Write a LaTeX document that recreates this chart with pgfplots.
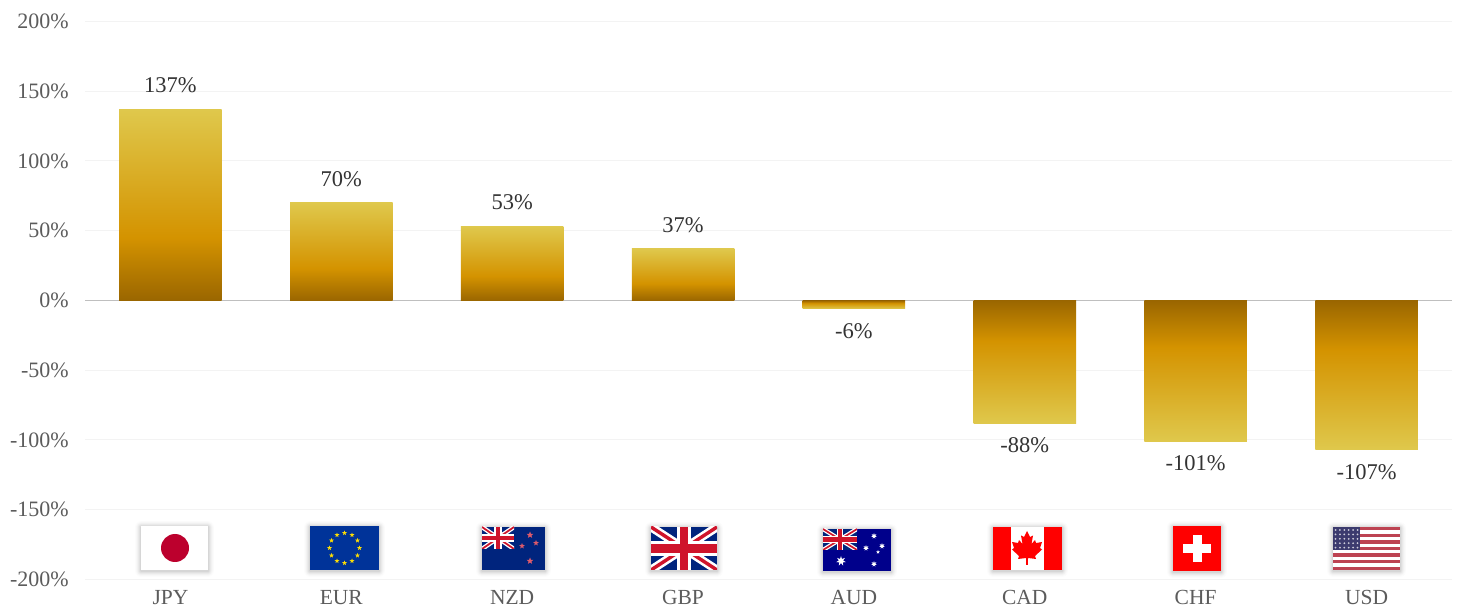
\documentclass[border=0pt]{standalone}
\usepackage{fontspec}
\setmainfont{Liberation Serif}
\usepackage{pgfplots}
\pgfplotsset{compat=1.18}
\usetikzlibrary{shapes.geometric}

\definecolor{gridc}{HTML}{F3F3F3}
\definecolor{zeroc}{HTML}{BFBFBF}
\definecolor{tickc}{HTML}{5C5C5C}
\definecolor{labc}{HTML}{333333}
\definecolor{gtop}{HTML}{DFC84C}
\definecolor{gmid}{HTML}{D49300}
\definecolor{gbot}{HTML}{9A6600}
\definecolor{jpred}{HTML}{BC002D}
\definecolor{eublue}{HTML}{003399}
\definecolor{nzblue}{HTML}{00247D}
\definecolor{aublue}{HTML}{00008B}
\definecolor{ukred}{HTML}{CF142B}
\definecolor{usred}{HTML}{B22234}
\definecolor{usblue}{HTML}{3C3B6E}

% bar gradients, the visible part of a shading is 25bp..75bp
\pgfdeclareverticalshading{barup}{100bp}{color(0bp)=(gbot); color(25bp)=(gbot); color(41.5bp)=(gmid); color(75bp)=(gtop); color(100bp)=(gtop)}
\pgfdeclareverticalshading{bardown}{100bp}{color(0bp)=(gtop); color(25bp)=(gtop); color(58.5bp)=(gmid); color(75bp)=(gbot); color(100bp)=(gbot)}

\pgfplotsset{
  goldbar/.style={ybar, bar width=102.5pt, bar shift=0pt, draw=none, shading=#1,
    nodes near coords={\pgfmathprintnumber[fixed,precision=0,assume math mode=true]{\pgfplotspointmeta}\%},
    every node near coord/.append style={text=labc, font=\fontsize{22.5}{24}\selectfont, anchor=center, inner sep=0pt}},
  upbar/.style={goldbar=barup, every node near coord/.append style={yshift=24pt}},
  downbar/.style={goldbar=bardown, every node near coord/.append style={yshift=-22pt}},
}

% soft shadow round a flag, image pixel coordinates
\newcommand{\fshadow}[4]{%
  \foreach \s/\o in {6/.012,5/.016,4/.022,3/.03,2/.04,1/.05}{\fill[black,opacity=\o,rounded corners=\s pt] (#1-\s,#2-\s+1) rectangle (#3+\s,#4+\s+1);}}
% union jack: x y w h
\newcommand{\ujack}[4]{%
  \begin{scope}
  \clip (#1,#2) rectangle ++(#3,#4);
  \begin{scope}[shift={(#1,#2)},x=#3pt,y=-#4pt]
  \fill[nzblue] (0,0) rectangle (1,1);
  \draw[white,line width=.2*#4 pt] (0,0)--(1,1) (0,1)--(1,0);
  \draw[ukred,line width=.08*#4 pt] (0,0)--(1,1) (0,1)--(1,0);
  \draw[white,line width=.33*#4 pt] (.5,0)--(.5,1) (0,.5)--(1,.5);
  \draw[ukred,line width=.2*#4 pt] (.5,0)--(.5,1) (0,.5)--(1,.5);
  \end{scope}
  \end{scope}}
\newcommand{\fstar}[4]{\node[star,star points=#4,star point ratio=2.3,fill=#3,inner sep=0pt,minimum size=#2pt] at #1 {};}

\begin{document}
\begin{tikzpicture}
\path[use as bounding box] (0,0) rectangle (1458pt,610pt);
\begin{axis}[
  at={(85pt,30.5pt)}, anchor=south west,
  scale only axis, width=1367pt, height=558pt,
  xmin=-0.5, xmax=7.5, ymin=-200, ymax=200,
  axis line style={draw=none},
  major tick length=0pt,
  ymajorgrids, major grid style={gridc,line width=1pt},
  ytick={-200,-150,-100,-50,0,50,100,150,200},
  yticklabels={-200\%,-150\%,-100\%,-50\%,0\%,50\%,100\%,150\%,200\%},
  xtick={0,...,7},
  xticklabels={JPY,EUR,NZD,GBP,AUD,CAD,CHF,USD},
  y tick label style={text=tickc,font=\fontsize{22}{24}\selectfont,anchor=east,inner sep=0pt,xshift=-16pt},
  x tick label style={text=tickc,font=\fontsize{21.5}{24}\selectfont,anchor=base,inner sep=0pt,yshift=-25pt},
  clip=false,
]
\addplot[zeroc,line width=1pt] coordinates {(-0.5,0) (7.5,0)};
\addplot[upbar] coordinates {(0,137)};
\addplot[upbar] coordinates {(1,70)};
\addplot[upbar] coordinates {(2,53)};
\addplot[upbar] coordinates {(3,37)};
\addplot[downbar] coordinates {(4,-6)};
\addplot[downbar] coordinates {(5,-88)};
\addplot[downbar] coordinates {(6,-101)};
\addplot[downbar] coordinates {(7,-107)};
\end{axis}

% flags, in pixels of the image
\begin{scope}[x=1pt,y=-1pt,shift={(0,610pt)}]
% JPY
\fshadow{141}{526}{208}{570}
\fill[white] (141,526) rectangle (208,570);
\fill[jpred] (175,548) circle (14);
% EUR
\fshadow{310}{526}{379}{570}
\fill[eublue] (310,526) rectangle (379,570);
\foreach \a in {0,30,...,330}{\fstar{({344.5+15*cos(\a)},{548+15*sin(\a)})}{5}{yellow!80!orange}{5}}
% NZD
\fshadow{482}{527}{545}{570}
\fill[nzblue] (482,527) rectangle (545,570);
\ujack{482}{527}{32}{22}
\fstar{(530,535)}{7}{ukred!70!white}{5}
\fstar{(522,546)}{6}{ukred!70!white}{5}
\fstar{(536,543)}{6}{ukred!70!white}{5}
\fstar{(530,561)}{7}{ukred!70!white}{5}
% GBP
\fshadow{651}{527}{717}{570}
\ujack{651}{527}{66}{43}
% AUD
\fshadow{823}{529}{891}{571}
\fill[aublue] (823,529) rectangle (891,571);
\ujack{823}{529}{34}{21}
\fstar{(841,561)}{10}{white}{7}
\fstar{(874,536)}{6}{white}{7}
\fstar{(882,546)}{6}{white}{7}
\fstar{(866,548)}{6}{white}{7}
\fstar{(878,552)}{4}{white}{5}
\fstar{(874,564)}{6}{white}{7}
% CAD
\fshadow{993}{527}{1062}{570}
\fill[white] (993,527) rectangle (1062,570);
\fill[red] (993,527) rectangle (1011,570);
\fill[red] (1044,527) rectangle (1062,570);
\begin{scope}[shift={(1027,548)}]
\fill[red] (0,-17)--(3,-11)--(6,-12.5)--(4.5,-4)--(8,-8)--(9,-5)--(15,-6)--(13,0)--(15,1.5)--(8,8)--(9,11)--(1,10)--(.8,17)--(-.8,17)--(-1,10)--(-9,11)--(-8,8)--(-15,1.5)--(-13,0)--(-15,-6)--(-9,-5)--(-8,-8)--(-4.5,-4)--(-6,-12.5)--(-3,-11)--cycle;
\end{scope}
% CHF
\fshadow{1173}{526}{1221}{571}
\fill[red] (1173,526) rectangle (1221,571);
\fill[white] (1192.5,535) rectangle (1201.5,562);
\fill[white] (1183,544) rectangle (1211,553);
% USD
\fshadow{1333}{527}{1400}{570}
\fill[white] (1333,527) rectangle (1400,570);
\foreach \k in {0,...,6}{\fill[usred!85!white] (1333,{527+\k*43/6.5}) rectangle (1400,{527+(\k+.5)*43/6.5});}
\fill[usblue] (1333,527) rectangle (1360,550);
\foreach \i in {0,...,5}{\foreach \j in {0,...,4}{\fill[white,opacity=.75] ({1335.5+\i*4.4},{530+\j*4.4}) circle (1);}}
\end{scope}
\end{tikzpicture}
\end{document}
